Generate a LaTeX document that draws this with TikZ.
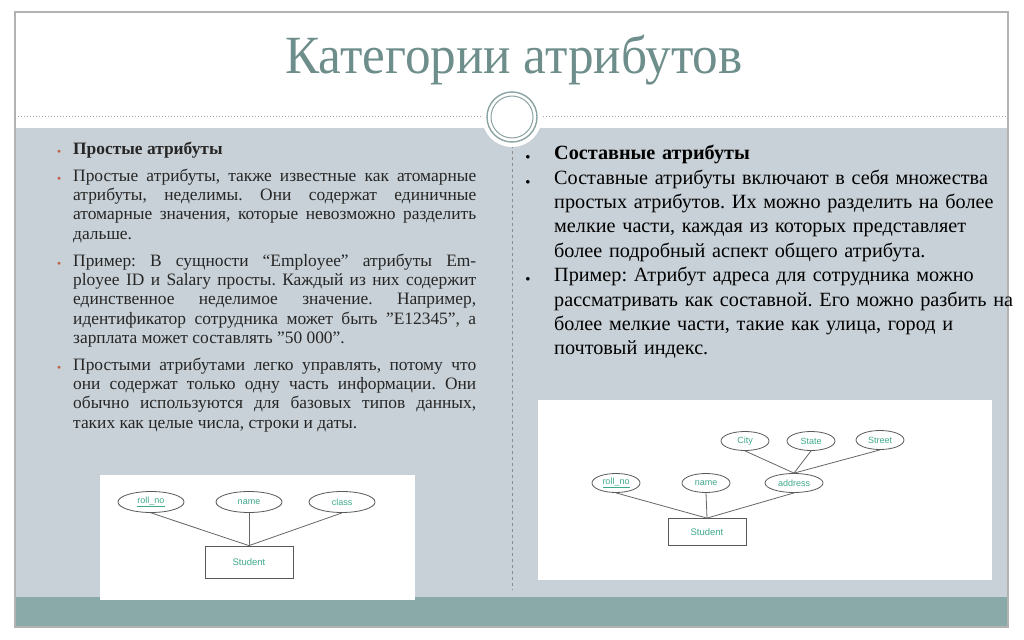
\documentclass[tikz,border=0pt]{standalone}
\usepackage{fontspec}
\setmainfont{Liberation Serif}
\newfontfamily\dsans{Liberation Sans}
\usepackage{enumitem}
\definecolor{panel}{HTML}{C8D1D7}
\definecolor{teal}{HTML}{8AAAA9}
\definecolor{titlec}{HTML}{6E8E8C}
\definecolor{bul}{HTML}{C0604A}
\definecolor{lbl}{HTML}{3FA98C}
\definecolor{txt}{HTML}{262626}
\begin{document}
\frenchspacing
\begin{tikzpicture}[x=1pt,y=-1pt,
  attr/.style={draw=black!65,line width=0.8pt,ellipse,minimum width=#1,minimum height=19pt,inner sep=0pt,font=\dsans\fontsize{9}{10}\selectfont,text=lbl},
  attr/.default=48pt,
  ent/.style={draw=black!65,line width=0.8pt,minimum width=80pt,minimum height=28pt,inner sep=0pt,font=\dsans\fontsize{9.5}{10}\selectfont,text=lbl},
  link/.style={draw=black!60,line width=0.8pt}]
\usetikzlibrary{shapes.geometric}
\useasboundingbox (0,0) rectangle (1024,639);
\fill[white] (0,0) rectangle (1024,639);
\fill[panel] (15,128) rectangle (1008,597);
\fill[teal] (15,597) rectangle (1008,627);
\draw[black!30,line width=1.2pt] (15,12) rectangle (1008,627);
\draw[black!35,dotted,line width=1pt] (15,117) -- (1008,117);
\draw[black!45,dashed,line width=0.6pt] (512,145) -- (512,590);
\fill[white] (512,117) circle (30);
\draw[titlec!80,line width=1.4pt] (512,117) circle (25);
\draw[titlec!80,line width=1pt] (512,117) circle (21);
\node[font=\fontsize{40}{44}\selectfont,text=titlec,yscale=1.05,scale=1.28] (title) at (514,60) {Категории атрибутов};
% left text
\node[anchor=north west,inner sep=0pt,text width=403pt,font=\fontsize{17.4}{19.2}\selectfont,text=txt,align=justify] (left) at (73,135) {%
\begin{itemize}[leftmargin=0pt,itemsep=8pt,topsep=0pt,parsep=0pt,label={\raisebox{1pt}{\textcolor{bul}{\scriptsize$\bullet$}}},labelsep=12pt]
\item \textbf{Простые атрибуты}
\item Простые атрибуты, также известные как атомарные атрибуты, неделимы. Они содержат единичные атомарные значения, которые невозможно разделить дальше.
\item Пример: В сущности “Employee” атрибуты Employee ID и Salary просты. Каждый из них содержит единственное неделимое значение. Например, идентификатор сотрудника может быть "E12345", а зарплата может составлять "50 000".
\item Простыми атрибутами легко управлять, потому что они содержат только одну часть информации. Они обычно используются для базовых типов данных, таких как целые числа, строки и даты.
\end{itemize}};
% right text
\node[anchor=north west,inner sep=0pt,text width=462pt,font=\fontsize{20.2}{24.4}\selectfont,text=black,align=left] (right) at (554,135) {%
\begin{itemize}[leftmargin=0pt,itemsep=0pt,topsep=0pt,parsep=0pt,label={\small$\bullet$},labelsep=24pt]
\item \textbf{Составные атрибуты}
\item Составные атрибуты включают в себя множества простых атрибутов. Их можно разделить на более мелкие части, каждая из которых представляет более подробный аспект общего атрибута.
\item Пример: Атрибут адреса для сотрудника можно рассматривать как составной. Его можно разбить на более мелкие части, такие как улица, город и почтовый индекс.
\end{itemize}};
% left diagram
\fill[white] (100,475) rectangle (415,600);
\node[attr=66pt,minimum height=21pt] (r1) at (151,502) {\underline{roll\_no}};
\node[attr=66pt,minimum height=21pt] (n1) at (249,502) {name};
\node[attr=66pt,minimum height=21pt] (c1) at (342,502) {class};
\node[ent,minimum width=88pt,minimum height=32pt] (s1) at (249,562) {Student};
\draw[link] (r1.south) -- (s1.north);
\draw[link] (n1.south) -- (s1.north);
\draw[link] (c1.south) -- (s1.north);
% right diagram
\fill[white] (538,400) rectangle (992,580);
\node[attr] (city) at (745,441) {City};
\node[attr] (state) at (811,441) {State};
\node[attr] (street) at (880,440) {Street};
\node[attr] (r2) at (616,483) {\underline{roll\_no}};
\node[attr] (n2) at (706,483) {name};
\node[attr=58pt] (addr) at (794,483) {address};
\node[ent,minimum width=78pt,minimum height=27pt] (s2) at (707,532) {Student};
\draw[link] (city.south) -- (addr.north);
\draw[link] (state.south) -- (addr.north);
\draw[link] (street.south) -- (addr.north);
\draw[link] (r2.south) -- (s2.north);
\draw[link] (n2.south) -- (s2.north);
\draw[link] (addr.south) -- (s2.north);
\end{tikzpicture}
\end{document}
